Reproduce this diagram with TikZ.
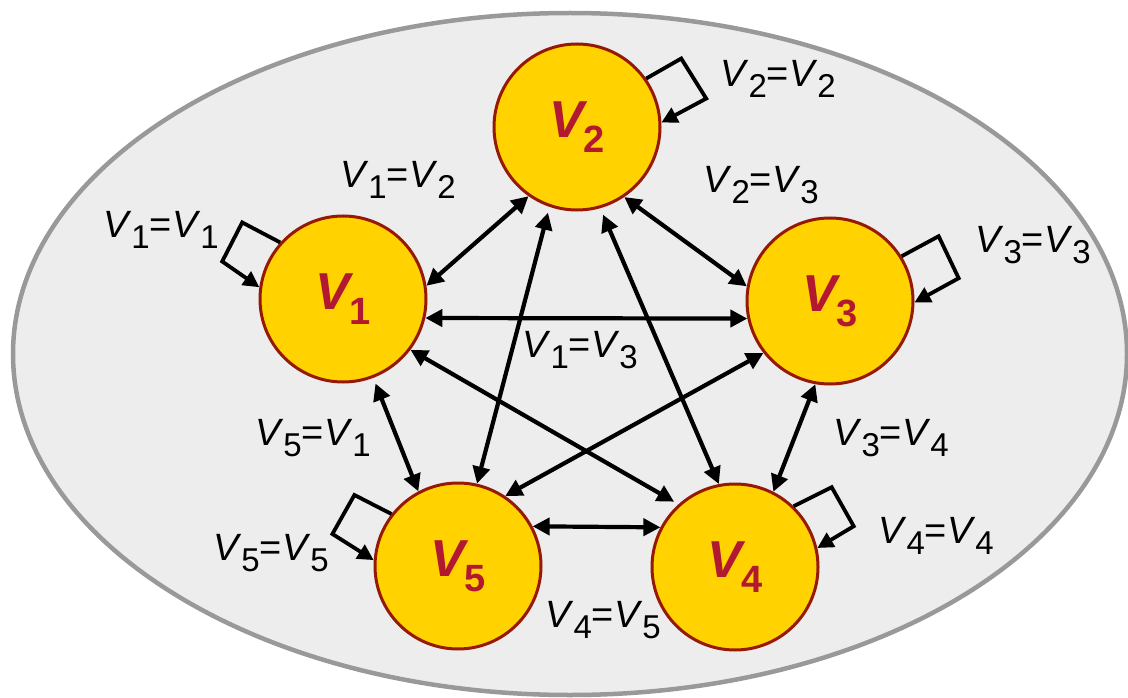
\documentclass[tikz,border=0pt]{standalone}
\usepackage{fontspec}
\setmainfont{Liberation Sans}
\usetikzlibrary{arrows.meta,calc}

\definecolor{vfill}{RGB}{255,210,0}
\definecolor{vedge}{RGB}{150,25,5}
\definecolor{vtext}{RGB}{178,24,48}
\definecolor{setfill}{RGB}{237,237,237}
\definecolor{setedge}{RGB}{153,153,153}

% vertex name: bold italic V with an upright bold index
\newcommand{\vname}[1]{\fontsize{52}{56}\selectfont\bfseries\itshape V\raisebox{-15pt}{\fontsize{38}{40}\selectfont\upshape #1}}
% equality label V_a=V_b
\newcommand{\vsub}[1]{\raisebox{-11pt}{\fontsize{33}{36}\selectfont #1}}
\newcommand{\eqlab}[2]{\fontsize{38}{42}\selectfont\textit{V}\vsub{#1}=\textit{V}\vsub{#2}}

\tikzset{
  vertex/.style={circle, draw=vedge, fill=vfill, line width=3pt,
    minimum size=166pt, inner sep=0pt, text=vtext},
  link/.style={line width=4.2pt, black,
    {Triangle[length=17pt,width=17pt]}-{Triangle[length=17pt,width=17pt]}},
  selfloop/.style={line width=3.8pt, black, line join=miter,
    -{Triangle[length=16pt,width=16pt]}},
  eqlabel/.style={anchor=base west, inner sep=0pt, text=black}
}

\begin{document}
\begin{tikzpicture}[x=1pt,y=-1pt]
\useasboundingbox (0,0) rectangle (1128,698);

% the enclosing set
\draw[setedge, fill=setfill, line width=4.5pt] (570,354) ellipse [x radius=557, y radius=341];

% vertices
\node[vertex] (v1) at (343,299) {\vname{1}};
\node[vertex] (v2) at (577,127) {\vname{2}};
\node[vertex] (v3) at (830,301) {\vname{3}};
\node[vertex] (v4) at (735,567) {\vname{4}};
\node[vertex] (v5) at (458,566) {\vname{5}};

% symmetric edges
\draw[link] (v1.9) -- (v2.-125);
\draw[link] (v2.-56) -- (v3.170);
\draw[link] (v1.-13) -- (v3.-168);
\draw[link, shorten >=5pt] (v1.-37) -- (v4.132);
\draw[link, shorten <=6pt] (v1.-69) -- (v5.118);
\draw[link, shorten <=6pt] (v2.-109) -- (v5.77);
\draw[link, shorten <=7pt] (v2.-74) -- (v4.101);
\draw[link] (v3.-142) -- (v5.56);
\draw[link] (v3.-100) -- (v4.63);
\draw[link] (v5.28) -- (v4.152);

% reflexive loops
\draw[selfloop] (v2.35) -- ++(35,-20) -- ++(25,40) -- (v2.3);
\draw[selfloop] (v1.138) -- ++(-38,-20) -- ++(-20,39) -- (v1.172);
\draw[selfloop] (v5.142) -- ++(-37,-19) -- ++(-22,39) -- (v5.176);
\draw[selfloop] (v3.32) -- ++(37,-20) -- ++(20,42) -- (v3.-1);
\draw[selfloop] (v4.46) -- ++(38,-19) -- ++(22,39) -- (v4.13);

% edge labels
\node[eqlabel] (l11) at (103,237) {\eqlab{1}{1}};
\node[eqlabel] (l22) at (720,87)  {\eqlab{2}{2}};
\node[eqlabel] (l33) at (975,252) {\eqlab{3}{3}};
\node[eqlabel] (l44) at (878,543) {\eqlab{4}{4}};
\node[eqlabel] (l55) at (213,560) {\eqlab{5}{5}};
\node[eqlabel] (l12) at (340,188) {\eqlab{1}{2}};
\node[eqlabel] (l23) at (703,193) {\eqlab{2}{3}};
\node[eqlabel] (l13) at (522,357) {\eqlab{1}{3}};
\node[eqlabel] (l34) at (833,445) {\eqlab{3}{4}};
\node[eqlabel] (l45) at (545,627) {\eqlab{4}{5}};
\node[eqlabel] (l51) at (255,445) {\eqlab{5}{1}};
\end{tikzpicture}
\end{document}
